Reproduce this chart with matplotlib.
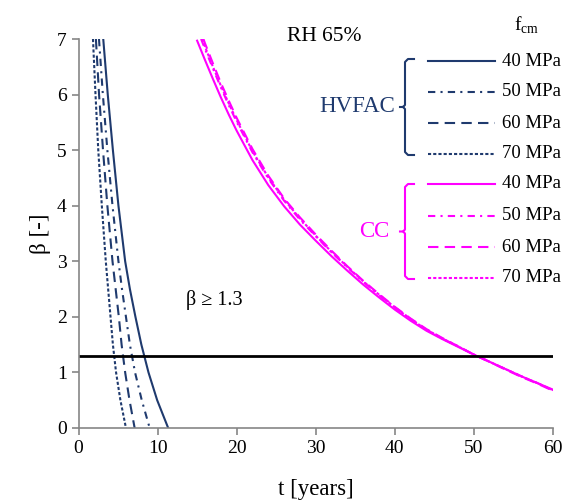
import matplotlib
matplotlib.use("Agg")
import matplotlib.pyplot as plt

plt.rcParams['font.family'] = ['Liberation Serif', 'DejaVu Serif']
plt.rcParams['mathtext.fontset'] = 'custom'
plt.rcParams['mathtext.rm'] = 'Liberation Serif'

NAVY = '#1F3A6E'
PINK = '#FF00FF'

strengths = ['40 MPa', '50 MPa', '60 MPa', '70 MPa']

# HVFAC curves: time (years) at which beta is reached
hv_beta = [7, 6, 5, 4, 3, 2.5, 2, 1.5, 1, 0.5, 0]
hv_t40 = [3.13, 3.70, 4.35, 5.05, 5.90, 6.50, 7.20, 7.95, 8.85, 9.95, 11.34]
hv_t50 = [2.59, 3.08, 3.65, 4.30, 5.05, 5.50, 6.00, 6.50, 7.15, 8.00, 9.00]
hv_t60 = [2.20, 2.60, 3.10, 3.65, 4.30, 4.70, 5.10, 5.45, 5.90, 6.45, 7.10]
hv_t70 = [1.83, 2.15, 2.50, 2.95, 3.45, 3.75, 4.05, 4.35, 4.75, 5.30, 6.00]

# CC curves
cc_t40 = [15.0, 16, 17, 18, 19, 20, 22, 24, 26, 28, 30, 32, 34, 36, 38, 40, 42, 44, 46, 48, 50, 52, 54, 56, 58, 60]
cc_b40 = [6.97, 6.62, 6.28, 5.95, 5.64, 5.35, 4.82, 4.37, 3.99, 3.66, 3.37, 3.09, 2.83, 2.58, 2.35, 2.13,
          1.93, 1.75, 1.60, 1.46, 1.32, 1.19, 1.06, 0.93, 0.81, 0.69]
cc_t50 = [15.5, 16, 17, 18, 19, 20, 22, 24, 26, 28, 30, 32, 34, 36, 38, 40, 42, 44, 46, 48, 50, 52, 54, 56, 58, 60]
cc_b50 = [7.0, 6.82, 6.47, 6.13, 5.81, 5.51, 4.96, 4.49, 4.09, 3.75, 3.45, 3.16, 2.89, 2.63, 2.39, 2.17,
          1.96, 1.77, 1.61, 1.47, 1.32, 1.19, 1.06, 0.93, 0.81, 0.68]
cc_t60 = [15.8, 16, 17, 18, 19, 20, 22, 24, 26, 28, 30, 32, 34, 36, 38, 40, 42, 44, 46, 48, 50, 52, 54, 56, 58, 60]
cc_b60 = [7.0, 6.92, 6.56, 6.21, 5.89, 5.58, 5.02, 4.54, 4.13, 3.79, 3.48, 3.19, 2.91, 2.65, 2.41, 2.18,
          1.97, 1.78, 1.62, 1.47, 1.32, 1.19, 1.05, 0.92, 0.80, 0.67]
cc_t70 = [15.6, 16, 17, 18, 19, 20, 22, 24, 26, 28, 30, 32, 34, 36, 38, 40, 42, 44, 46, 48, 50, 52, 54, 56, 58, 60]
cc_b70 = [7.0, 6.86, 6.50, 6.16, 5.84, 5.54, 4.98, 4.51, 4.11, 3.77, 3.46, 3.17, 2.90, 2.64, 2.40, 2.17,
          1.96, 1.77, 1.61, 1.47, 1.32, 1.19, 1.06, 0.93, 0.81, 0.68]

beta_limit = 1.3

styles = ['-', (0, (3.5, 2.5, 1, 2.5)), (0, (5, 3)), (0, (1.5, 1))]

fig = plt.figure(figsize=(5.69, 5.04), dpi=100)
ax = fig.add_axes([78.5 / 569, 1 - 428 / 504, (553 - 78.5) / 569, (428 - 39) / 504])

for t, ls in zip([hv_t40, hv_t50, hv_t60, hv_t70], styles):
    ax.plot(t, hv_beta, color=NAVY, lw=1.5, ls=ls)
for t, b, ls in zip([cc_t40, cc_t50, cc_t60, cc_t70], [cc_b40, cc_b50, cc_b60, cc_b70], styles):
    ax.plot(t, b, color=PINK, lw=1.5, ls=ls)

ax.axhline(beta_limit, color='black', lw=2)
ax.text(13.6, 2.3, 'β ≥ 1.3', fontsize=14.5, va='center', ha='left')
ax.text(31.1, 7.05, 'RH 65%', fontsize=15.5, va='center', ha='center', clip_on=False)

ax.set_xlim(0, 60)
ax.set_ylim(0, 7)
ax.set_xticks(range(0, 61, 10))
ax.set_yticks(range(0, 8))
for s in ['top', 'right']:
    ax.spines[s].set_visible(False)
for s in ['left', 'bottom']:
    ax.spines[s].set_color('#868686')
    ax.spines[s].set_linewidth(1.2)
ax.tick_params(direction='out', length=5, color='#868686', labelsize=14, width=1.2)
ax.set_xlabel('t [years]', fontsize=16.5, labelpad=16)
ax.set_ylabel('β [-]', fontsize=16.5, labelpad=4)


# legend drawn by hand, in figure pixel coordinates
def px(x, y):
    return x / 569, 1 - y / 504


def fline(xs, ys, color, lw=1.5, ls='-'):
    pts = [px(x, y) for x, y in zip(xs, ys)]
    fig.add_artist(plt.Line2D([p[0] for p in pts], [p[1] for p in pts],
                              transform=fig.transFigure, color=color, lw=lw, ls=ls))


fig.text(*px(527, 25), r'f$_{\mathrm{cm}}$', fontsize=14, ha='center', va='center')

rows_hv = [61, 92, 123, 154]
rows_cc = [184, 216, 247, 278]
for label, ls, yh, yc in zip(strengths, styles, rows_hv, rows_cc):
    fline([428, 495], [yh, yh], NAVY, ls=ls)
    fline([428, 495], [yc, yc], PINK, ls=ls)
    fig.text(*px(502, yh), label, fontsize=13.5, ha='left', va='center')
    fig.text(*px(502, yc), label, fontsize=13.5, ha='left', va='center')


def brace(y0, y1, color):
    ym = (y0 + y1) / 2
    fline([414, 408, 405, 405, 403, 400], [y0, y0, y0 + 3, ym - 2, ym, ym], color)
    fline([414, 408, 405, 405, 403], [y1, y1, y1 - 3, ym + 2, ym], color)


brace(59, 155, NAVY)
brace(184, 279, PINK)
fig.text(*px(357, 106), 'HVFAC', fontsize=16.5, ha='center', va='center', color=NAVY)
fig.text(*px(374, 232), 'CC', fontsize=16.5, ha='center', va='center', color=PINK)

fig.savefig('out.png', dpi=100)
